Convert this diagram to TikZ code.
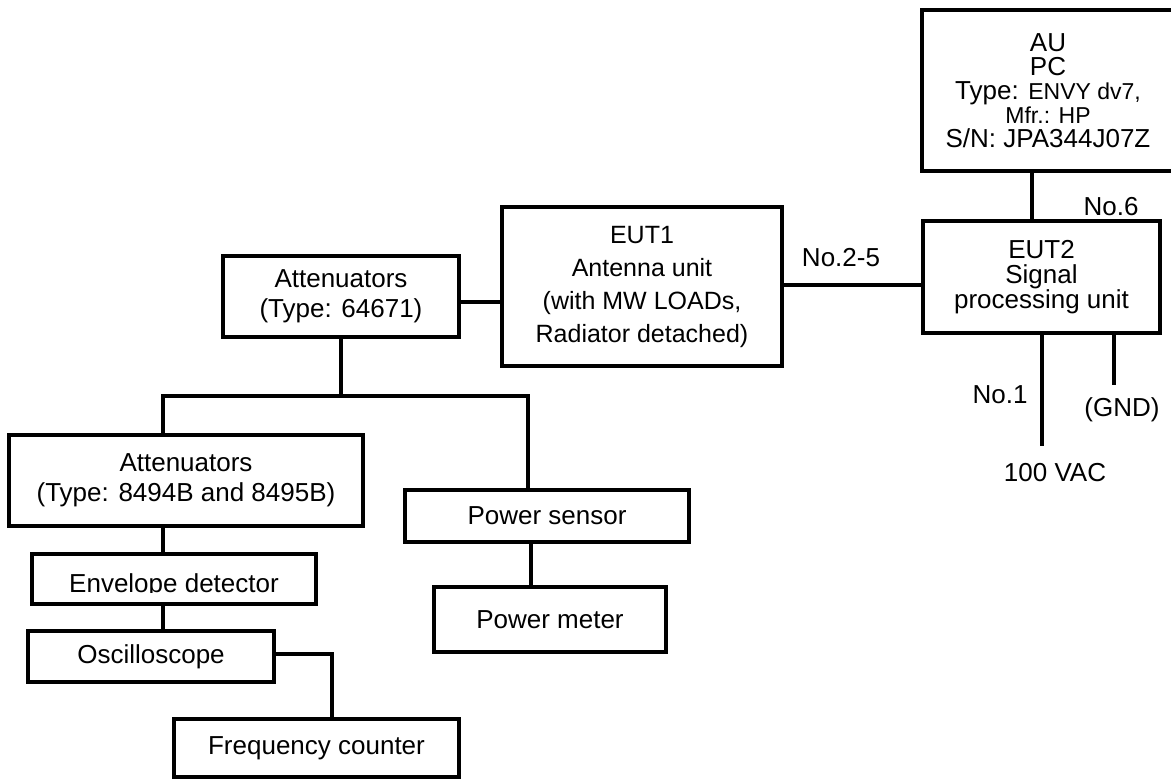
\documentclass[tikz,border=0pt]{standalone}
\usepackage{fontspec}
\setmainfont{Liberation Sans}

\begin{document}
\begin{tikzpicture}[x=1pt, y=-1pt,
    box/.style={draw, rectangle, line width=3.4pt, inner sep=0pt, align=center, font=\fontsize{26}{30}\selectfont},
    lbl/.style={inner sep=0pt, font=\fontsize{26}{30}\selectfont}]

\useasboundingbox (0,0) rectangle (1171,779);

\node[box, minimum width=252, minimum height=161, font=\fontsize{26}{24}\selectfont] (au) at (1048,90.5)
    {AU\\PC\\Type: {\fontsize{23}{24}\selectfont ENVY dv7,}\\{\fontsize{23}{24}\selectfont Mfr.: HP}\\S/N: JPA344J07Z};
\node[box, minimum width=237, minimum height=112, font=\fontsize{26}{25}\selectfont] (eut2) at (1041.5,277)
    {EUT2\\Signal\\processing unit};
\node[box, minimum width=280, minimum height=159, font=\fontsize{25}{33}\selectfont] (eut1) at (642,286.5)
    {EUT1\\Antenna unit\\(with MW LOADs,\\Radiator detached)};
\node[box, minimum width=236, minimum height=81] (att1) at (341,296.5) {Attenuators\\(Type: 64671)};
\node[box, minimum width=354, minimum height=91] (att2) at (186,480.5) {Attenuators\\(Type: 8494B and 8495B)};
\node[box, minimum width=284, minimum height=52] (sensor) at (547,516) {Power sensor};
\node[box, minimum width=232, minimum height=65] (meter) at (550,619.5) {Power meter};
\node[box, minimum width=284, minimum height=50] (envdet) at (174,579) {};
\node[box, minimum width=246, minimum height=51] (osc) at (151,656.5) {Oscilloscope};
\node[box, minimum width=285, minimum height=58] (counter) at (316.5,748) {Frequency counter};

\coordinate (envcut) at (0,592);
\begin{scope}
\clip (envdet.north west) rectangle (envdet.east |- envcut);
\node[lbl, anchor=base] (envtxt) at (174,592) {Envelope detector};
\end{scope}

\node[lbl] (no6) at (1111,207) {No.6};
\node[lbl] (no25) at (841,258) {No.2-5};
\node[lbl] (no1) at (1000,395) {No.1};
\node[lbl] (gnd) at (1122,410) {(GND)};
\node[lbl] (vac) at (1055,473) {100 VAC};

\coordinate (pcbus) at (1032,0);
\coordinate (ifbus) at (0,285);
\coordinate (rfbus) at (0,302);
\coordinate (split) at (0,396);
\coordinate (leftdrop) at (163,0);
\coordinate (rightdrop) at (528,0);
\coordinate (snsdrop) at (531,0);
\coordinate (osctap) at (0,654);
\coordinate (cntdrop) at (332,0);
\coordinate (acdrop) at (1042,446);
\coordinate (gnddrop) at (1114,385);

\begin{scope}[line width=3.2pt]
\draw (au.south -| pcbus) -- (eut2.north -| pcbus);
\draw (eut1.east |- ifbus) -- (eut2.west |- ifbus);
\draw (att1.east |- rfbus) -- (eut1.west |- rfbus);
\draw (att1.south) -- (att1.south |- split);
\draw (att2.north -| leftdrop) |- (split -| rightdrop) -- (sensor.north -| rightdrop);
\draw (att2.south -| leftdrop) -- (envdet.north -| leftdrop);
\draw (envdet.south -| leftdrop) -- (osc.north -| leftdrop);
\draw (osc.east |- osctap) -| (counter.north -| cntdrop);
\draw (sensor.south -| snsdrop) -- (meter.north -| snsdrop);
\draw (eut2.south -| acdrop) -- (acdrop);
\draw (eut2.south -| gnddrop) -- (gnddrop);
\end{scope}

\end{tikzpicture}
\end{document}
